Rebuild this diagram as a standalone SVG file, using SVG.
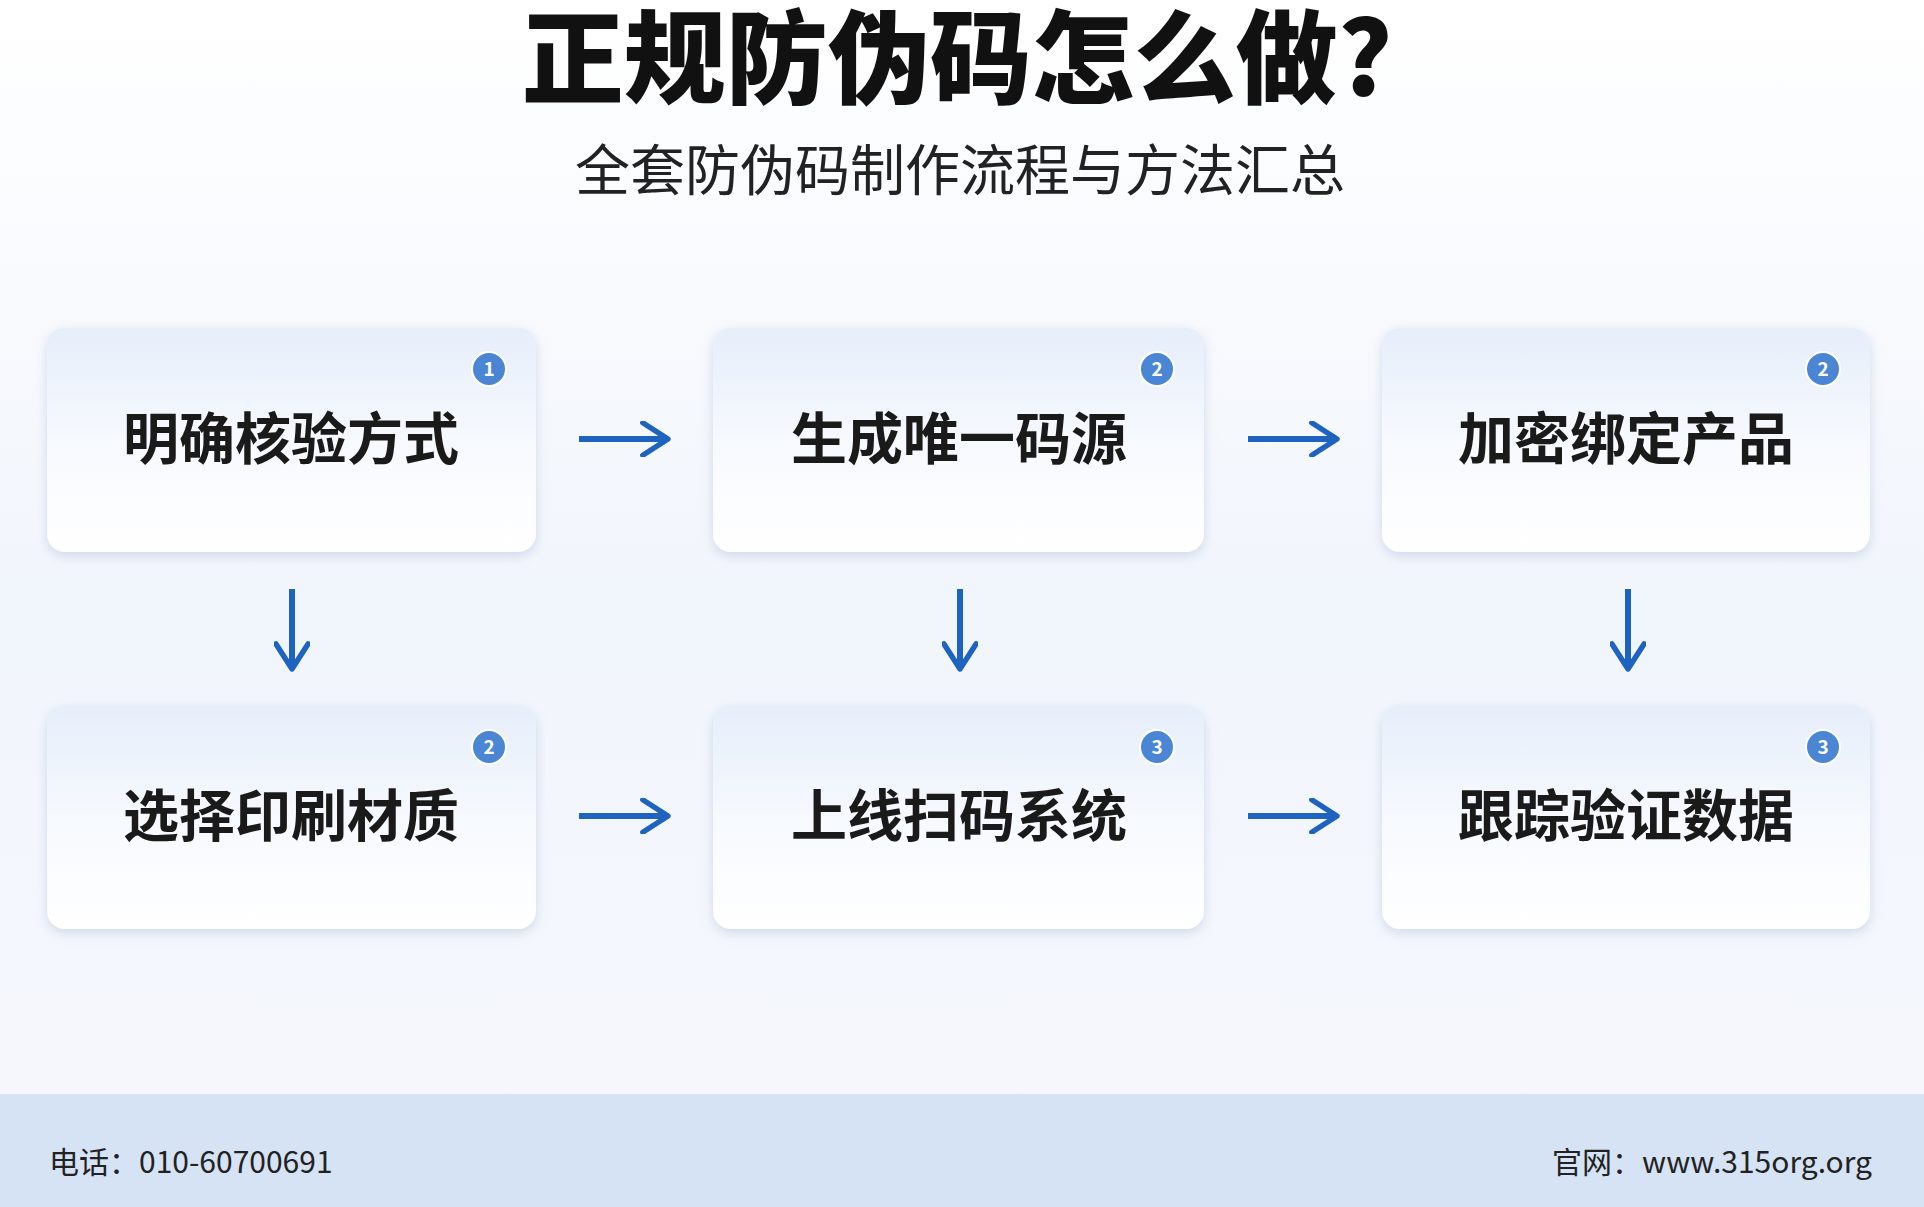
<svg xmlns="http://www.w3.org/2000/svg" width="1924" height="1207" viewBox="0 0 1924 1207">
<defs>
<linearGradient id="bg" x1="0" y1="0" x2="0" y2="1"><stop offset="0" stop-color="#ffffff"/><stop offset="0.5" stop-color="#f1f5fc"/><stop offset="1" stop-color="#f6f8fd"/></linearGradient>
<linearGradient id="card" x1="0" y1="0" x2="0" y2="1"><stop offset="0" stop-color="#e6eefa"/><stop offset="0.5" stop-color="#f6f9fe"/><stop offset="1" stop-color="#ffffff"/></linearGradient>
<filter id="sh" x="-10%" y="-10%" width="120%" height="130%"><feDropShadow dx="0" dy="4" stdDeviation="6" flood-color="#8fa3c4" flood-opacity="0.35"/></filter>
<marker id="ah" viewBox="0 0 10 10" refX="8" refY="5" markerWidth="6" markerHeight="6" orient="auto" markerUnits="strokeWidth"><path d="M1,0.5 L8,5 L1,9.5" fill="none" stroke="#1f63c0" stroke-width="1.5" stroke-linecap="round" stroke-linejoin="round"/></marker>
</defs>
<style>
text{font-family:"Noto Sans CJK SC","Noto Sans",sans-serif}
.box{fill:url(#card);filter:url(#sh)}
.lbl{font-size:56px;font-weight:700;fill:#1a1a1a;text-anchor:middle}
.bd{fill:#4a86d4;stroke:#ffffff;stroke-width:2}
.bt{font-size:19px;font-weight:700;fill:#fff;text-anchor:middle}
.ar{stroke:#1f63c0;stroke-width:6;fill:none;marker-end:url(#ah)}
.ft{font-size:30px;fill:#222}
</style>
<rect width="1924" height="1207" fill="url(#bg)"/>
<rect y="1094" width="1924" height="113" fill="#d5e3f5"/>
<text x="957" y="96" font-size="102" font-weight="900" fill="#111" text-anchor="middle">正规防伪码怎么做?</text>
<text x="960" y="190" font-size="55" fill="#222" text-anchor="middle">全套防伪码制作流程与方法汇总</text>
<g id="n1"><rect class="box" x="47" y="328" width="489" height="224" rx="18"/><text class="lbl" x="291" y="459">明确核验方式</text><circle class="bd" cx="489" cy="369" r="17"/><text class="bt" x="489" y="376">1</text></g>
<g id="n2"><rect class="box" x="713" y="328" width="491" height="224" rx="18"/><text class="lbl" x="959" y="459">生成唯一码源</text><circle class="bd" cx="1157" cy="369" r="17"/><text class="bt" x="1157" y="376">2</text></g>
<g id="n3"><rect class="box" x="1382" y="328" width="488" height="224" rx="18"/><text class="lbl" x="1626" y="459">加密绑定产品</text><circle class="bd" cx="1823" cy="369" r="17"/><text class="bt" x="1823" y="376">2</text></g>
<g id="n4"><rect class="box" x="47" y="706" width="489" height="223" rx="18"/><text class="lbl" x="291" y="836">选择印刷材质</text><circle class="bd" cx="489" cy="747" r="17"/><text class="bt" x="489" y="754">2</text></g>
<g id="n5"><rect class="box" x="713" y="706" width="491" height="223" rx="18"/><text class="lbl" x="959" y="836">上线扫码系统</text><circle class="bd" cx="1157" cy="747" r="17"/><text class="bt" x="1157" y="754">3</text></g>
<g id="n6"><rect class="box" x="1382" y="706" width="488" height="223" rx="18"/><text class="lbl" x="1626" y="836">跟踪验证数据</text><circle class="bd" cx="1823" cy="747" r="17"/><text class="bt" x="1823" y="754">3</text></g>
<g id="connectors">
<line class="ar" x1="579" y1="439" x2="668" y2="439"/>
<line class="ar" x1="1248" y1="439" x2="1337" y2="439"/>
<line class="ar" x1="579" y1="816" x2="668" y2="816"/>
<line class="ar" x1="1248" y1="816" x2="1337" y2="816"/>
<line class="ar" x1="292" y1="589" x2="292" y2="669"/>
<line class="ar" x1="960" y1="589" x2="960" y2="669"/>
<line class="ar" x1="1628" y1="589" x2="1628" y2="669"/>
</g>
<text class="ft" x="49" y="1173">电话：010-60700691</text>
<text class="ft" x="1872" y="1173" text-anchor="end">官网：www.315org.org</text>
</svg>
